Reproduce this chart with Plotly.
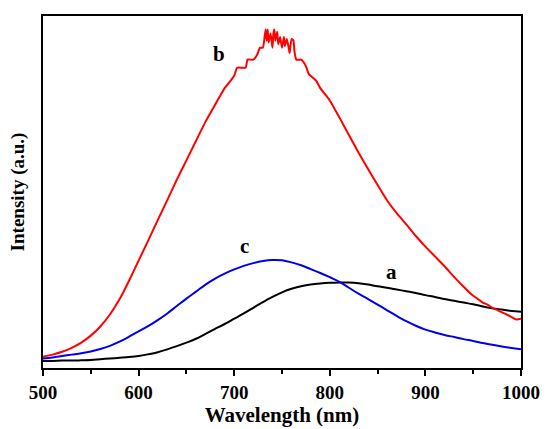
import plotly.graph_objects as go

# wavelength grid (nm) shared by curves a and c
wl = list(range(500, 1001, 10))

# curve a (black)
int_a = [0.020, 0.020, 0.021, 0.021, 0.022, 0.023, 0.025, 0.027, 0.029, 0.031,
         0.034, 0.039, 0.045, 0.053, 0.062, 0.072, 0.083, 0.097, 0.111, 0.125,
         0.140, 0.155, 0.171, 0.187, 0.202, 0.215, 0.225, 0.232, 0.237, 0.240,
         0.242, 0.243, 0.243, 0.241, 0.237, 0.232, 0.228, 0.223, 0.218, 0.213,
         0.207, 0.202, 0.196, 0.191, 0.186, 0.181, 0.175, 0.170, 0.166, 0.162,
         0.160]

# curve c (blue)
int_c = [0.027, 0.030, 0.034, 0.038, 0.042, 0.047, 0.054, 0.063, 0.075, 0.089,
         0.104, 0.119, 0.136, 0.155, 0.176, 0.197, 0.217, 0.237, 0.254, 0.268,
         0.280, 0.290, 0.298, 0.304, 0.307, 0.306, 0.300, 0.292, 0.281, 0.270,
         0.258, 0.245, 0.228, 0.211, 0.196, 0.180, 0.164, 0.148, 0.133, 0.120,
         0.109, 0.101, 0.094, 0.088, 0.082, 0.077, 0.071, 0.066, 0.061, 0.057,
         0.053]

# curve b (red) - finer sampling around the noisy maximum
wl_b = [500, 510, 520, 530, 540, 550, 560, 570, 580, 590, 600, 610, 620, 630,
        640, 650, 660, 670, 680, 685, 690, 695, 700, 703, 708, 712, 714, 720,
        724, 727, 730, 732, 733, 734, 735, 736, 738, 740, 741, 742, 743, 745,
        746, 748, 750, 752, 753, 755, 757, 758, 760, 762, 763, 765, 770, 774,
        776, 778, 782, 786, 790, 795, 800, 810, 820, 830, 840, 850, 860, 870,
        880, 890, 900, 910, 920, 930, 940, 950, 955, 960, 965, 970, 975, 980,
        985, 990, 995, 1000]
int_b = [0.032, 0.038, 0.046, 0.057, 0.072, 0.092, 0.118, 0.152, 0.195, 0.248,
         0.305, 0.362, 0.420, 0.477, 0.535, 0.590, 0.645, 0.700, 0.748, 0.772,
         0.795, 0.812, 0.830, 0.853, 0.853, 0.853, 0.876, 0.876, 0.890, 0.910,
         0.910, 0.945, 0.962, 0.930, 0.962, 0.925, 0.950, 0.910, 0.950, 0.962,
         0.930, 0.955, 0.920, 0.940, 0.910, 0.940, 0.915, 0.935, 0.910, 0.895,
         0.935, 0.930, 0.900, 0.876, 0.876, 0.863, 0.850, 0.835, 0.825, 0.815,
         0.795, 0.778, 0.760, 0.712, 0.662, 0.612, 0.565, 0.520, 0.476, 0.440,
         0.408, 0.375, 0.345, 0.317, 0.289, 0.259, 0.231, 0.205, 0.196, 0.186,
         0.180, 0.171, 0.165, 0.158, 0.152, 0.145, 0.138, 0.140]

# curve labels
lab_text = ["b", "c", "a"]
lab_x = [684, 711, 865]
lab_y = [0.892, 0.347, 0.273]

serif = "Times New Roman, Liberation Serif, serif"

fig = go.Figure()
fig.add_trace(go.Scatter(x=wl, y=int_a, mode="lines",
                         line=dict(color="#000000", width=2, shape="spline")))
fig.add_trace(go.Scatter(x=wl_b, y=int_b, mode="lines",
                         line=dict(color="#FF0000", width=2, shape="spline", smoothing=0.5)))
fig.add_trace(go.Scatter(x=wl, y=int_c, mode="lines",
                         line=dict(color="#0000EE", width=2, shape="spline")))

for t, x, y in zip(lab_text, lab_x, lab_y):
    fig.add_annotation(x=x, y=y, text=t, showarrow=False,
                       font=dict(family=serif, size=21, color="black", weight="bold"))

fig.update_layout(
    width=545, height=429,
    margin=dict(l=43, r=24, t=16, b=61),
    paper_bgcolor="white", plot_bgcolor="white",
    showlegend=False,
    font=dict(family=serif, color="black"),
)
fig.update_xaxes(
    range=[500, 1000], tickvals=[500, 600, 700, 800, 900, 1000],
    ticks="outside", ticklen=6, tickwidth=2, tickcolor="black",
    minor=dict(tickvals=[550, 650, 750, 850, 950], ticks="outside", ticklen=4,
               tickwidth=2, tickcolor="black"),
    showline=True, linecolor="black", linewidth=2, mirror=True,
    showgrid=False, zeroline=False, automargin=False,
    tickfont=dict(family=serif, size=19, weight="bold"),
    title=dict(text="Wavelength (nm)", font=dict(family=serif, size=21, weight="bold"),
               standoff=5),
)
fig.update_yaxes(
    range=[0, 1], showticklabels=False, ticks="",
    showline=True, linecolor="black", linewidth=2, mirror=True,
    showgrid=False, zeroline=False, automargin=False,
    title=dict(text="Intensity (a.u.)", font=dict(family=serif, size=19, weight="bold"),
               standoff=11),
)

fig.write_html("out.html", config={"displayModeBar": False},
               post_script="document.body.style.margin='0px';")
